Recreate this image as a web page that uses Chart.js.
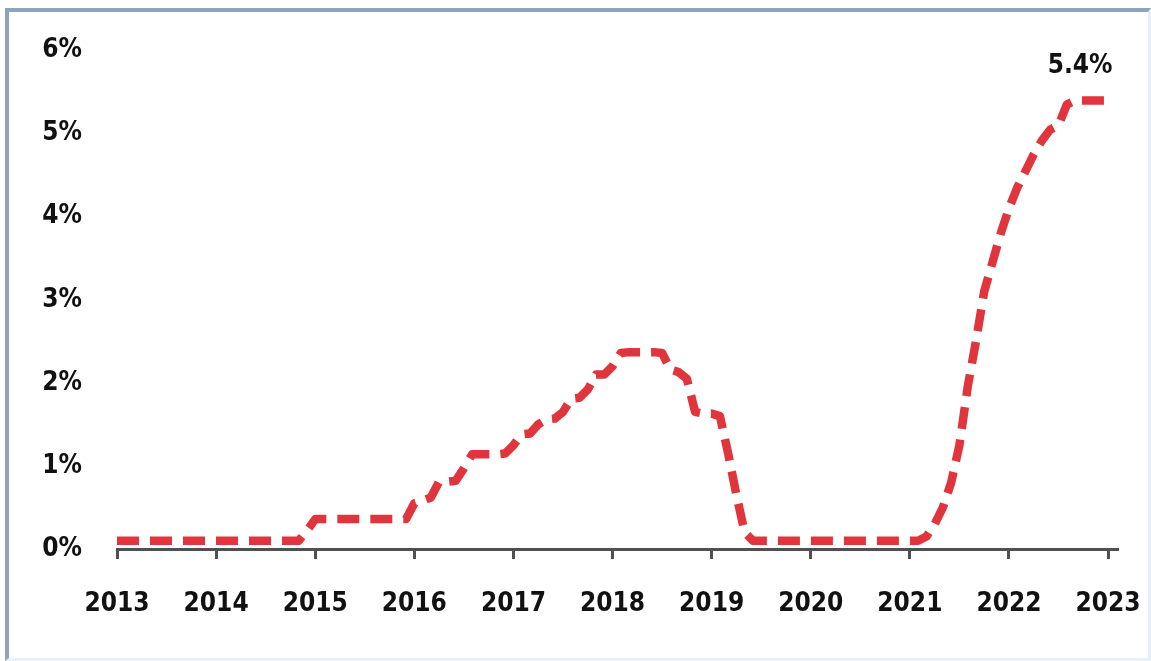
<!DOCTYPE html>
<html>
<head>
<meta charset="utf-8">
<script src="https://cdn.jsdelivr.net/npm/chart.js@4/dist/chart.umd.min.js"></script>
<style>
  html, body { margin: 0; padding: 0; background: #ffffff; }
  body { width: 1151px; height: 661px; position: relative; overflow: hidden; }
  #frame {
    position: absolute; left: 5px; top: 8px; right: 0; bottom: 0;
    border-left: 4px solid #8fa2bf; border-top: 4px solid #8fa2bf;
    border-right: 3px solid #e6eef7; border-bottom: 3px solid #e9f0f8;
    box-sizing: border-box;
  }
  #wrap { position: absolute; left: 0; top: 0; width: 1151px; height: 661px; }
</style>
</head>
<body>
<div id="frame"></div>
<div id="wrap"><canvas id="chart" width="1151" height="661"></canvas></div>
<script>
// Year ticks along the bottom axis
const yearTicks = [2013, 2014, 2015, 2016, 2017, 2018, 2019, 2020, 2021, 2022, 2023];
const firstYear = 2013;

// Policy rate, monthly readings (%), January of the first year onward
const monthlyRate = [
  0.1, 0.1, 0.1, 0.1, 0.1, 0.1, 0.1, 0.1, 0.1, 0.1, 0.1, 0.1,
  0.1, 0.1, 0.1, 0.1, 0.1, 0.1, 0.1, 0.1, 0.1, 0.1, 0.1, 0.22,
  0.36, 0.36, 0.36, 0.36, 0.36, 0.36, 0.36, 0.36, 0.36, 0.36, 0.36, 0.36,
  0.55, 0.58, 0.62, 0.81, 0.81, 0.82, 0.97, 1.14, 1.14, 1.14, 1.14, 1.15,
  1.25, 1.38, 1.39, 1.5, 1.56, 1.57, 1.65, 1.81, 1.82, 1.92, 2.1, 2.1,
  2.2, 2.36, 2.37, 2.37, 2.37, 2.37, 2.36, 2.16, 2.13, 2.05, 1.65, 1.63,
  1.63, 1.6, 1.15, 0.65, 0.2, 0.1, 0.1, 0.1, 0.1, 0.1, 0.1, 0.1,
  0.1, 0.1, 0.1, 0.1, 0.1, 0.1, 0.1, 0.1, 0.1, 0.1, 0.1, 0.1,
  0.1, 0.1, 0.15, 0.3, 0.5, 0.8, 1.25, 1.95, 2.5, 3.1, 3.45, 3.8,
  4.1, 4.35, 4.55, 4.75, 4.92, 5.05, 5.1, 5.35, 5.4, 5.4, 5.4, 5.4,
  5.4
];

// Y tick values (%)
const rateTicks = [0, 1, 2, 3, 4, 5, 6];

const points = monthlyRate.map((v, i) => ({ x: firstYear + i / 12, y: v }));

const labelFont = { family: "'DejaVu Sans Condensed', 'DejaVu Sans', sans-serif", weight: 'bold', size: 26 };

// Writes the latest reading above the end of the line
const endLabel = {
  id: 'endLabel',
  afterDatasetsDraw(chart) {
    const { ctx, scales } = chart;
    const last = points[points.length - 1];
    const x = scales.x.getPixelForValue(last.x) - 28;
    const y = scales.y.getPixelForValue(last.y) - 21;
    ctx.save();
    ctx.font = `bold ${labelFont.size}px ${labelFont.family}`;
    ctx.fillStyle = '#111111';
    ctx.textAlign = 'center';
    ctx.textBaseline = 'bottom';
    ctx.fillText(last.y.toFixed(1) + '%', x, y);
    ctx.restore();
  }
};

new Chart(document.getElementById('chart'), {
  type: 'line',
  data: {
    datasets: [{
      data: points,
      borderColor: '#e0353c',
      borderWidth: 8.5,
      borderDash: [22, 11],
      borderCapStyle: 'butt',
      borderJoinStyle: 'round',
      pointRadius: 0,
      tension: 0,
      fill: false
    }]
  },
  options: {
    responsive: false,
    animation: false,
    devicePixelRatio: 1,
    layout: { padding: { top: 47, right: 34, bottom: 0, left: 0 } },
    plugins: { legend: { display: false }, tooltip: { enabled: false } },
    scales: {
      x: {
        type: 'linear',
        min: firstYear,
        max: 2023.09,
        afterBuildTicks(scale) { scale.ticks = yearTicks.map(v => ({ value: v })); },
        afterFit(scale) { scale.height = 112; scale.paddingRight = 0; scale.paddingLeft = 0; },
        border: { display: true, color: '#505050', width: 3 },
        grid: { display: true, drawOnChartArea: false, drawTicks: true, tickLength: 10, color: '#505050', lineWidth: 3 },
        ticks: {
          autoSkip: false, maxRotation: 0, padding: 30,
          color: '#111111', font: labelFont,
          callback: v => String(v)
        }
      },
      y: {
        min: 0,
        max: 6,
        afterBuildTicks(scale) { scale.ticks = rateTicks.map(v => ({ value: v })); },
        afterFit(scale) { scale.width = 117; },
        border: { display: false },
        grid: { display: false, drawTicks: false },
        ticks: {
          padding: 35,
          color: '#111111', font: labelFont,
          callback: v => v + '%'
        }
      }
    }
  },
  plugins: [endLabel]
});
</script>
</body>
</html>
